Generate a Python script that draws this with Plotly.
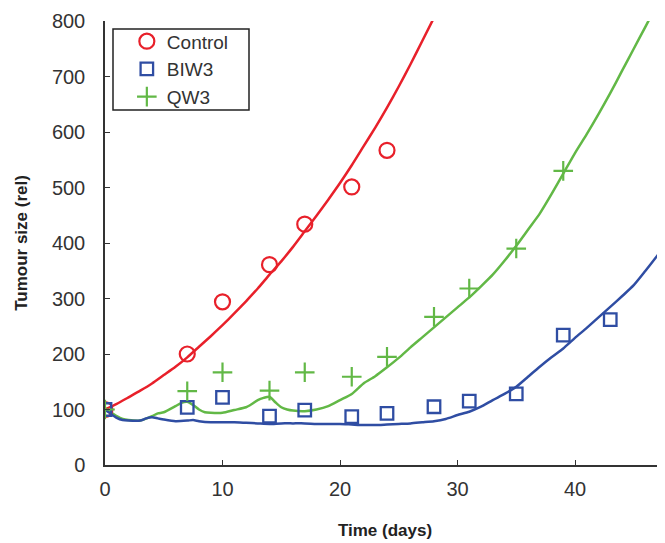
import plotly.graph_objects as go

# Observed data (markers)
control_days = [0, 7, 10, 14, 17, 21, 24]
control_vals = [100, 200, 294, 361, 434, 501, 567]

biw3_days = [0, 7, 10, 14, 17, 21, 24, 28, 31, 35, 39, 43]
biw3_vals = [100, 104, 122, 88, 99, 87, 93, 105, 115, 128, 234, 262]

qw3_days = [0, 7, 10, 14, 17, 21, 24, 28, 31, 35, 39]
qw3_vals = [100, 133, 167, 134, 167, 159, 195, 267, 318, 390, 530]

# Model curves
control_fit_days = list(range(0, 29))
control_fit_vals = [100, 110, 122, 134, 147, 162, 177, 194, 213, 232, 252, 273, 295, 318,
                    343, 367, 393, 421, 449, 478, 508, 540, 574, 608, 644, 682, 722, 764, 806]

qw3_fit_days = [0, 0.5, 1, 1.5, 2, 3, 4, 4.5, 5, 6, 6.5, 7, 7.5, 8, 8.5, 9, 10, 11, 12, 12.5, 13,
                13.5, 14, 14.5, 15, 15.5, 16, 17, 18, 19, 20, 21, 22, 23, 24, 25, 26, 27, 28, 29,
                30, 31, 32, 33, 34, 35, 36, 37, 38, 39, 40, 41, 42, 43, 44, 45, 46, 47]
qw3_fit_vals = [100, 95, 88, 83, 81, 80, 88, 93, 95, 106, 112, 114, 108, 100, 95, 94, 94, 99, 104,
                110, 117, 121, 123, 113, 104, 100, 98, 97, 100, 106, 117, 128, 147, 160, 176, 193,
                212, 230, 248, 266, 284, 302, 322, 343, 368, 395, 424, 453, 488, 525, 562, 596,
                632, 670, 710, 750, 790, 830]

biw3_fit_days = [0, 0.5, 1, 1.5, 2, 3, 3.5, 4, 4.5, 5, 6, 7, 7.5, 8, 9, 10, 11, 12, 13, 14, 15, 16,
                 17, 18, 19, 20, 21, 22, 23, 24, 25, 26, 27, 28, 29, 30, 31, 32, 33, 34, 35, 36,
                 37, 38, 39, 40, 41, 42, 43, 44, 45, 46, 47, 48]
biw3_fit_vals = [100, 92, 85, 81, 80, 80, 84, 86, 84, 82, 79, 80, 81, 79, 77, 77, 77, 76, 75, 74,
                 75, 75, 75, 74, 74, 74, 73, 72, 72, 73, 74, 75, 77, 79, 83, 90, 96, 105, 117, 128,
                 141, 159, 177, 194, 210, 229, 247, 266, 285, 304, 324, 350, 377, 404]

y_ticks = [0, 100, 200, 300, 400, 500, 600, 700, 800]
x_ticks = [0, 10, 20, 30, 40]

RED = "#E8202A"
BLUE = "#2F4DA3"
GREEN = "#62B846"

fig = go.Figure()

fig.add_trace(go.Scatter(x=control_fit_days, y=control_fit_vals, mode="lines",
                         line=dict(color=RED, width=2.5, shape="spline", smoothing=0.6),
                         showlegend=False, hoverinfo="skip"))
fig.add_trace(go.Scatter(x=qw3_fit_days, y=qw3_fit_vals, mode="lines",
                         line=dict(color=GREEN, width=2.5, shape="spline", smoothing=0.6),
                         showlegend=False, hoverinfo="skip"))
fig.add_trace(go.Scatter(x=biw3_fit_days, y=biw3_fit_vals, mode="lines",
                         line=dict(color=BLUE, width=2.5, shape="spline", smoothing=0.6),
                         showlegend=False, hoverinfo="skip"))

fig.add_trace(go.Scatter(x=control_days, y=control_vals, mode="markers", name="Control",
                         marker=dict(symbol="circle-open", size=15, color=RED,
                                     line=dict(width=2.2, color=RED))))
fig.add_trace(go.Scatter(x=biw3_days, y=biw3_vals, mode="markers", name="BIW3",
                         marker=dict(symbol="square-open", size=12.5, color=BLUE,
                                     line=dict(width=2.3, color=BLUE))))
fig.add_trace(go.Scatter(x=qw3_days, y=qw3_vals, mode="markers", name="QW3",
                         marker=dict(symbol="cross-thin-open", size=14, color=GREEN,
                                     line=dict(width=2.2, color=GREEN))))

# page body has an 8px margin; plot area sits at screen x 105..665, y 21..465
L, T, PW, PH = 97, 13, 560, 444
fig.update_layout(
    width=657, height=535,
    margin=dict(l=L, r=0, t=T, b=535 - T - PH, autoexpand=False),
    paper_bgcolor="white", plot_bgcolor="white",
    font=dict(family="Liberation Sans, Arial, sans-serif", color="#333333"),
    showlegend=True,
    legend=dict(x=0.039, y=0.997, xanchor="left", yanchor="top",
                bgcolor="rgba(0,0,0,0)", borderwidth=0,
                font=dict(size=19, color="#333333"), tracegroupgap=0),
    shapes=[dict(type="rect", xref="paper", yref="paper",
                 x0=(113 - 105) / PW, x1=(249 - 105) / PW,
                 y0=(465 - 110) / PH, y1=(465 - 29) / PH,
                 line=dict(color="#222222", width=1.5), fillcolor="rgba(0,0,0,0)")],
)

fig.update_xaxes(
    range=[0, PW / 11.75], tickvals=x_ticks, ticktext=[str(v) for v in x_ticks],
    showgrid=False, zeroline=False, showline=True, linecolor="#333333", linewidth=1.5,
    ticks="inside", ticklen=5, tickwidth=1.2, tickcolor="#333333",
    tickfont=dict(size=20, color="#333333"), ticklabelstandoff=5,
    title=dict(text="<b>Time (days)</b>", font=dict(size=17, color="#222222"), standoff=25),
)
fig.update_yaxes(
    range=[0, 800], tickvals=y_ticks, ticktext=[str(v) for v in y_ticks],
    showgrid=False, zeroline=False, showline=True, linecolor="#333333", linewidth=1.5,
    ticks="inside", ticklen=5, tickwidth=1.2, tickcolor="#333333",
    tickfont=dict(size=20, color="#333333"), ticklabelstandoff=14,
    title=dict(text="<b>Tumour size (rel)</b>", font=dict(size=17, color="#222222"), standoff=20),
)

fig.write_html("out.html")
